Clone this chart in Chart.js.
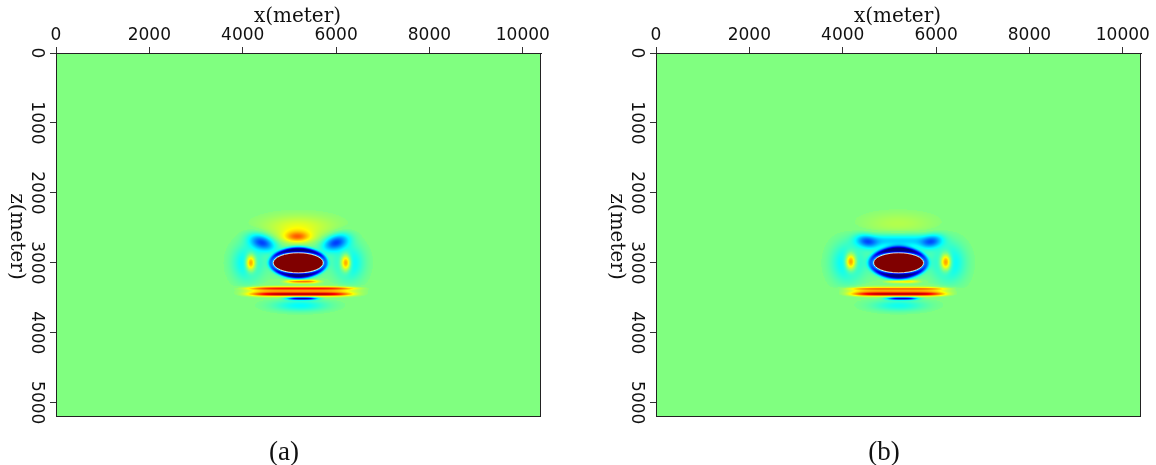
<!DOCTYPE html>
<html>
<head>
<meta charset="utf-8">
<script src="https://cdn.jsdelivr.net/npm/chart.js@4.4.1/dist/chart.umd.min.js"></script>
<style>
  body { margin: 0; background: #fff; }
  #wrap { position: relative; width: 1156px; height: 465px; background: #fff; }
  canvas { position: absolute; top: 0; }
  .cap { position: absolute; top: 436px; width: 100px; text-align: center;
         font: 27px "Liberation Serif", serif; line-height: 30px; color: #111; }
</style>
</head>
<body>
<div id="wrap">
  <canvas id="panelA" width="556" height="465" style="left:0px"></canvas>
  <canvas id="panelB" width="556" height="465" style="left:600px"></canvas>
  <div class="cap" style="left:234px">(a)</div>
  <div class="cap" style="left:834px">(b)</div>
</div>
<script>
// axes (meters)
const xTicks = [0, 2000, 4000, 6000, 8000, 10000];
const zTicks = [0, 1000, 2000, 3000, 4000, 5000];
const xExtent = [0, 10390];
const zExtent = [0, 5190];

// lobes of the wavefield, summed:
// x, z, half-width x, half-width z, amplitude (-1..1), tilt (deg), flatness along x
const lobesA = [
  [5190, 2480, 1100, 230, 0.18, 0, 1],
  [4100, 3000, 440, 370, -0.3, 0, 1],
  [6280, 3000, 440, 370, -0.3, 0, 1],
  [5230, 3610, 850, 120, -0.25, 0, 1],
  [4420, 2710, 400, 150, -0.6, 20, 1],
  [5990, 2710, 400, 150, -0.6, -20, 1],
  [5190, 3000, 700, 250, -0.25, 0, 1],
  [5170, 2610, 500, 170, 0.14, 0, 1],
  [5170, 2630, 370, 100, 0.36, 0, 1],
  [4170, 3000, 150, 165, 0.7, 0, 1],
  [6210, 3000, 150, 165, 0.7, 0, 1],
  [5240, 3410, 1350, 85, 0.4, 0, 2.5],
  [5276, 3267, 430, 35, 0.55, 0, 1.5],
  [5250, 3365, 1300, 30, 0.5, 0, 2.5],
  [5240, 3450, 1200, 36, 0.65, 0, 2.5],
  [5276, 3510, 400, 28, -0.85, 0, 1.5]
];
const lobesB = [
  [5190, 2440, 1100, 230, 0.1, 0, 1],
  [4100, 3000, 480, 400, -0.3, 0, 1],
  [6280, 3000, 480, 400, -0.3, 0, 1],
  [5200, 3610, 850, 120, -0.22, 0, 1],
  [5190, 2680, 1000, 130, -0.33, 0, 2],
  [4520, 2700, 330, 130, -0.38, 18, 1],
  [5900, 2700, 330, 130, -0.38, -18, 1],
  [5190, 3000, 720, 260, -0.3, 0, 1],
  [4170, 2985, 160, 170, 0.72, 0, 1],
  [6210, 2990, 160, 170, 0.72, 0, 1],
  [5180, 3405, 1250, 80, 0.38, 0, 2.5],
  [5276, 3267, 430, 32, 0.35, 0, 1.5],
  [5180, 3370, 1200, 26, 0.3, 0, 2.5],
  [5190, 3448, 1100, 38, 0.68, 0, 2.5],
  [5276, 3510, 400, 28, -0.8, 0, 1.5]
];

// rims around the inclusion: x, z, rx, rz, amplitude
const ringsA = [[5190, 3000, 585, 185, -1.0]];
const ringsB = [[5195, 3000, 590, 190, -1.0]];

// saturated inclusion: x, z, rx, rz
const coreA = [5190, 3000, 535, 143];
const coreB = [5197, 3000, 535, 143];

function jet(v) {
  const s = (Math.max(-1, Math.min(1, v)) + 1) / 2;
  const c = k => Math.round(255 * Math.max(0, Math.min(1, 1.5 - Math.abs(4 * s - k))));
  return [c(3), c(2), c(1)];
}

function ellipseAt(ctx, sx, sz, x, z, rx, rz) {
  const cx = sx.getPixelForValue(x), cy = sz.getPixelForValue(z);
  ctx.beginPath();
  ctx.ellipse(cx, cy, Math.abs(sx.getPixelForValue(x + rx) - cx),
              Math.abs(sz.getPixelForValue(z + rz) - cy), 0, 0, 2 * Math.PI);
}

const fieldPlugin = {
  id: 'field',
  beforeDraw(chart, args, opts) {
    const { ctx, chartArea: a } = chart;
    const sx = chart.scales.x, sz = chart.scales.y;
    const toPx = ([x, z, rx, rz, amp, tilt = 0, flat = 1]) => {
      const cx = sx.getPixelForValue(x), cy = sz.getPixelForValue(z);
      const t = tilt * Math.PI / 180;
      return { cx, cy, amp, flat, c: Math.cos(t), s: Math.sin(t),
               px: Math.abs(sx.getPixelForValue(x + rx) - cx),
               pz: Math.abs(sz.getPixelForValue(z + rz) - cy) };
    };
    const lobes = opts.lobes.map(toPx);
    const rings = opts.rings.map(toPx);
    const core = toPx(opts.core);

    const left = Math.round(a.left), top = Math.round(a.top);
    const w = Math.round(a.right) - left, h = Math.round(a.bottom) - top;
    const img = ctx.createImageData(w, h);
    for (let j = 0; j < h; j++) {
      const Y = top + j + 0.5;
      for (let i = 0; i < w; i++) {
        const X = left + i + 0.5;
        let v = 0;
        const ex = (X - core.cx) / core.px, ey = (Y - core.cy) / core.pz;
        if (ex * ex + ey * ey <= 1) {
          v = 1;
        } else {
          for (const L of lobes) {
            const dx = X - L.cx, dy = Y - L.cy;
            const u = Math.abs(dx * L.c + dy * L.s) / L.px;
            const q = (-dx * L.s + dy * L.c) / L.pz;
            const r2 = Math.pow(u, 2 * L.flat) + q * q;
            if (r2 < 8) v += L.amp * Math.exp(-2 * r2);
          }
          for (const R of rings) {
            const dx = X - R.cx, dy = Y - R.cy;
            const rx = dx / R.px, ry = dy / R.pz;
            const d = Math.sqrt(rx * rx + ry * ry);
            const local = Math.sqrt(dx * dx + dy * dy) / d;
            const dist = (d - 1) * local / opts.ringPx;
            const ny = ry / d;
            v += R.amp * (0.45 + 0.55 * ny * ny) * Math.exp(-dist * dist);
          }
          // keep the quiet background flat
          if (Math.abs(v) < 0.02) v = 0;
        }
        const [r, g, b] = jet(v);
        const k = (j * w + i) * 4;
        img.data[k] = r; img.data[k + 1] = g; img.data[k + 2] = b; img.data[k + 3] = 255;
      }
    }
    ctx.putImageData(img, left, top);

    ctx.save();
    ellipseAt(ctx, sx, sz, ...opts.core);
    ctx.strokeStyle = 'rgba(255,255,255,0.75)';
    ctx.lineWidth = 1;
    ctx.stroke();
    ctx.restore();
  },
  afterDraw(chart) {
    const { ctx, chartArea: a } = chart;
    const sz = chart.scales.y;
    ctx.save();
    ctx.strokeStyle = '#222';
    ctx.lineWidth = 1;
    ctx.strokeRect(a.left + 0.5, a.top + 0.5, a.right - a.left - 1, a.bottom - a.top);
    ctx.fillStyle = '#111';
    ctx.textAlign = 'center';
    ctx.textBaseline = 'middle';
    // depth tick labels, rotated
    ctx.font = '17px "DejaVu Sans"';
    zTicks.forEach(v => {
      ctx.save();
      ctx.translate(36, sz.getPixelForValue(v));
      ctx.rotate(Math.PI / 2);
      ctx.fillText(String(v), 0, 0);
      ctx.restore();
    });
    ctx.font = '20px "DejaVu Serif"';
    ctx.fillText('x(meter)', (a.left + a.right) / 2 - 1, 17);
    ctx.save();
    ctx.translate(16, (a.top + a.bottom) / 2 + 2);
    ctx.rotate(Math.PI / 2);
    ctx.fillText('z(meter)', 0, 0);
    ctx.restore();
    ctx.restore();
  }
};

function makePanel(id, lobes, rings, core, ringPx) {
  return new Chart(document.getElementById(id), {
    type: 'scatter',
    data: { datasets: [{ data: [] }] },
    plugins: [fieldPlugin],
    options: {
      responsive: false,
      animation: false,
      layout: { padding: { right: 15, bottom: 49 } },
      plugins: {
        legend: { display: false },
        tooltip: { enabled: false },
        field: { lobes, rings, core, ringPx }
      },
      scales: {
        x: {
          type: 'linear', position: 'top',
          min: xExtent[0], max: xExtent[1],
          afterBuildTicks: s => { s.ticks = xTicks.map(v => ({ value: v })); },
          afterFit: s => { s.height = 53; },
          ticks: { color: '#111', padding: 1, maxRotation: 0,
                   callback: v => String(v),
                   font: { family: 'DejaVu Sans', size: 17 } },
          grid: { drawOnChartArea: false, tickLength: 6, tickColor: '#333' },
          border: { color: '#222', width: 1 }
        },
        y: {
          type: 'linear', reverse: true,
          min: zExtent[0], max: zExtent[1],
          afterBuildTicks: s => { s.ticks = zTicks.map(v => ({ value: v })); },
          afterFit: s => { s.width = 56; },
          ticks: { display: false },
          grid: { drawOnChartArea: false, tickLength: 6, tickColor: '#333' },
          border: { color: '#222', width: 1 }
        }
      }
    }
  });
}

makePanel('panelA', lobesA, ringsA, coreA, 3);
makePanel('panelB', lobesB, ringsB, coreB, 3.4);
</script>
</body>
</html>
